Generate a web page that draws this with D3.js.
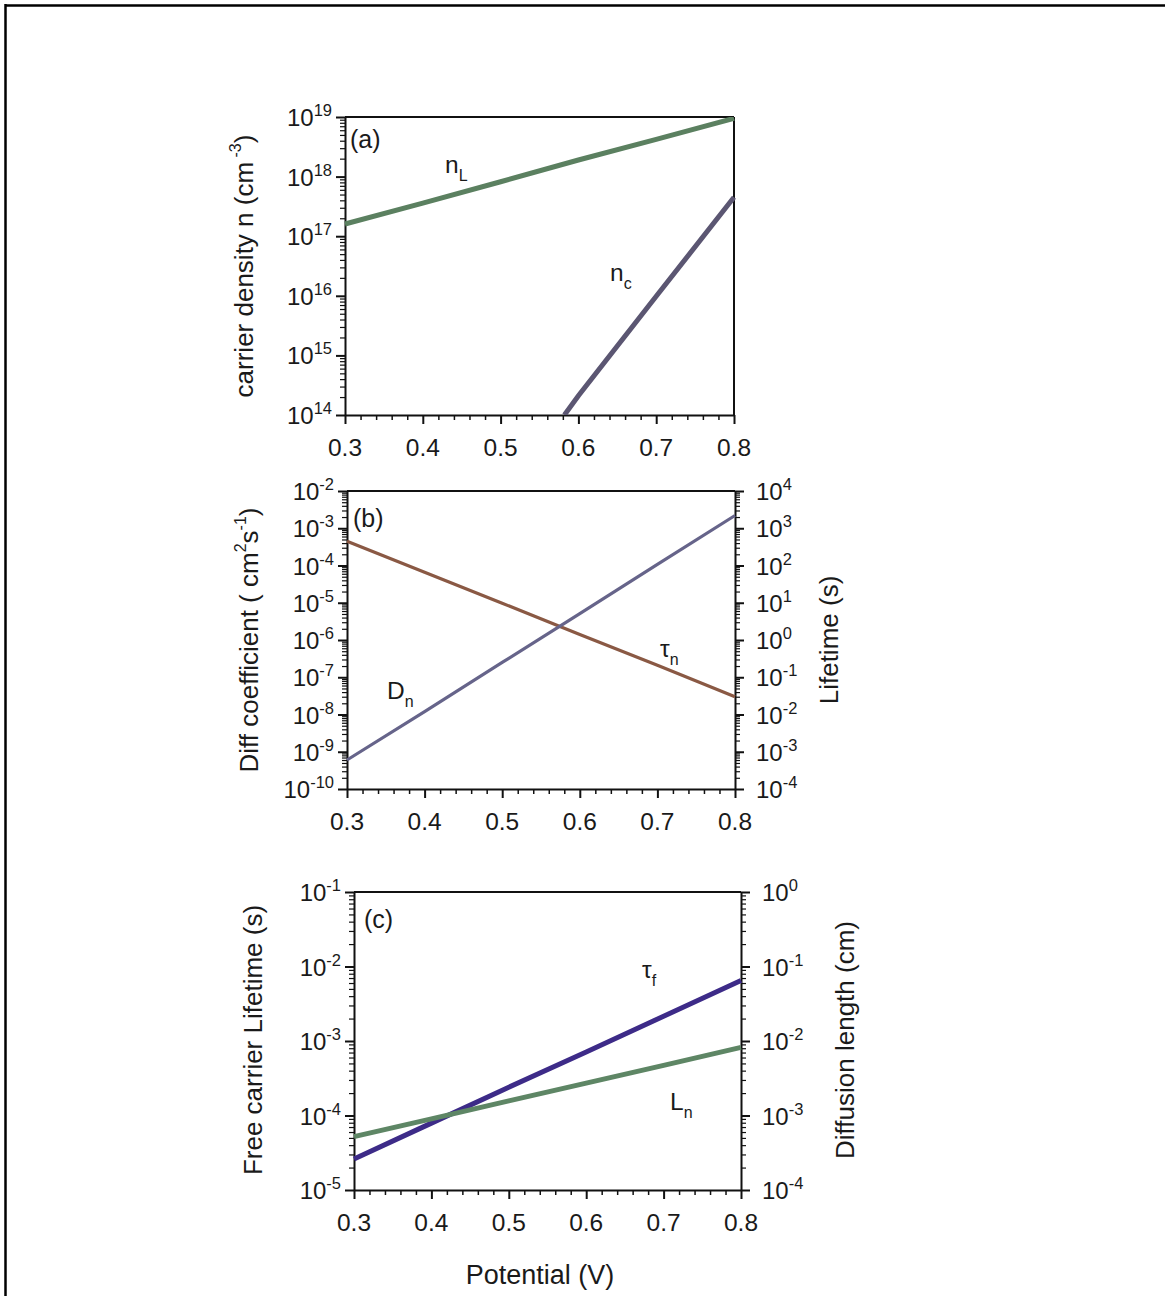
<!DOCTYPE html>
<html>
<head>
  <title>Carrier density, diffusion and lifetime</title>
  <style>
    body { margin: 0; background: #fff; }
    svg text { font-family: "Liberation Sans", Arial, sans-serif; fill: #1a1a1a; }
    .domain, .tick line { stroke: #111; }
  </style>
</head>
<body>
  <svg id="chart" width="1165" height="1296"></svg>

  <script src="https://cdn.jsdelivr.net/npm/d3@7"></script>
  <script>
    // data
    const potential = [0.3, 0.4, 0.5, 0.6, 0.7, 0.8];
    const xTicks = [0.3, 0.4, 0.5, 0.6, 0.7, 0.8];

    // (a) carrier density, cm^-3
    const nL = [1.6e17, 3.6e17, 8.2e17, 1.9e18, 4.2e18, 9.5e18];
    const ncPotential = [0.582, 0.6, 0.7, 0.8];
    const nc = [1e14, 2.1e14, 9.8e15, 4.5e17];

    // (b) diffusion coefficient (left) and lifetime (right)
    const Dn = [6e-10, 1.2e-8, 2.5e-7, 5.1e-6, 1.07e-4, 2.2e-3];
    const tauN = [450, 66, 9.7, 1.4, 0.21, 0.03];

    // (c) free carrier lifetime (left) and diffusion length (right)
    const tauF = [2.6e-5, 7.9e-5, 2.4e-4, 7.1e-4, 2.15e-3, 6.5e-3];
    const Ln = [5.2e-4, 9.0e-4, 1.57e-3, 2.72e-3, 4.7e-3, 8.2e-3];

    const svg = d3.select("#chart");

    // outer frame (top and left edges only)
    svg.append("line").attr("x1", 5).attr("y1", 5.5).attr("x2", 1165).attr("y2", 5.5)
       .attr("stroke", "#000").attr("stroke-width", 2.5);
    svg.append("line").attr("x1", 5.5).attr("y1", 4).attr("x2", 5.5).attr("y2", 1296)
       .attr("stroke", "#000").attr("stroke-width", 2.5);

    // log tick positions: 1..9 x 10^k
    function logTicks(lo, hi) {
      const t = [];
      for (let k = lo; k < hi; k++)
        for (let m = 1; m < 10; m++) t.push(m * Math.pow(10, k));
      t.push(Math.pow(10, hi));
      return t;
    }
    const isMajor = v => Math.abs(Math.log10(v) - Math.round(Math.log10(v))) < 1e-9;

    function logLabel(sel, v) {
      const e = Math.round(Math.log10(v));
      sel.append("tspan").text("10");
      sel.append("tspan").attr("dy", -10).attr("font-size", 16.5).text(e);
    }

    function logAxis(g, scale, lo, hi, side, x) {
      const ticks = logTicks(lo, hi);
      const dir = side === "left" ? -1 : 1;
      const axis = (side === "left" ? d3.axisLeft(scale) : d3.axisRight(scale))
        .tickValues(ticks).tickFormat("").tickSizeOuter(0).tickSize(0);
      const ag = g.append("g").attr("transform", `translate(${x},0)`).call(axis);
      ag.select(".domain").attr("stroke-width", 2);
      ag.selectAll(".tick line")
        .attr("x2", d => dir * (isMajor(d) ? 9 : 5))
        .attr("stroke-width", d => isMajor(d) ? 2 : 1.2);
      ticks.filter(isMajor).forEach(v => {
        const t = g.append("text")
          .attr("x", x + dir * (side === "left" ? 13 : 21))
          .attr("y", scale(v) + 9)
          .attr("font-size", 24)
          .attr("text-anchor", side === "left" ? "end" : "start");
        logLabel(t, v);
      });
    }

    function xAxis(g, x, h) {
      const minor = d3.range(0.3, 0.8001, 0.02);
      const axis = d3.axisBottom(x).tickValues(minor).tickFormat("").tickSizeOuter(0).tickSize(0);
      const ag = g.append("g").attr("transform", `translate(0,${h})`).call(axis);
      ag.select(".domain").attr("stroke-width", 2);
      ag.selectAll(".tick line")
        .attr("y2", d => xTicks.some(t => Math.abs(t - d) < 1e-6) ? 9 : 5)
        .attr("stroke-width", d => xTicks.some(t => Math.abs(t - d) < 1e-6) ? 2 : 1.5);
      g.selectAll(".xlab").data(xTicks).enter().append("text")
        .attr("x", d => x(d)).attr("y", h + 41)
        .attr("text-anchor", "middle").attr("font-size", 24.5)
        .text(d => d.toFixed(1));
    }

    function panel(p) {
      const g = svg.append("g").attr("transform", `translate(${p.left},${p.top})`);
      const x = d3.scaleLinear().domain([0.3, 0.8]).range([0, p.w]);
      const y = d3.scaleLog().domain([Math.pow(10, p.ylo), Math.pow(10, p.yhi)]).range([p.h, 0]);

      const clipId = "clip-" + p.name;
      g.append("clipPath").attr("id", clipId).append("rect")
        .attr("x", -3).attr("y", 0).attr("width", p.w + 6).attr("height", p.h);

      // frame
      g.append("line").attr("x1", 0).attr("x2", p.w).attr("y1", 0).attr("y2", 0)
       .attr("stroke", "#111").attr("stroke-width", 2);
      if (!p.y2) g.append("line").attr("x1", p.w).attr("x2", p.w).attr("y1", 0).attr("y2", p.h)
       .attr("stroke", "#111").attr("stroke-width", 2);

      logAxis(g, y, p.ylo, p.yhi, "left", 0);
      let y2 = null;
      if (p.y2) {
        y2 = d3.scaleLog().domain([Math.pow(10, p.y2[0]), Math.pow(10, p.y2[1])]).range([p.h, 0]);
        logAxis(g, y2, p.y2[0], p.y2[1], "right", p.w);
      }
      xAxis(g, x, p.h);

      p.series.forEach(s => {
        const sc = s.right ? y2 : y;
        const pts = s.x.map((v, i) => [v, s.y[i]]);
        g.append("path").datum(pts)
          .attr("clip-path", `url(#${clipId})`)
          .attr("fill", "none").attr("stroke", s.color).attr("stroke-width", p.lw)
          .attr("d", d3.line().x(d => x(d[0])).y(d => sc(d[1])));
      });

      g.append("text").attr("x", p.tag[0]).attr("y", p.tag[1]).attr("font-size", 25).text(p.label);

      p.notes.forEach(n => {
        const t = g.append("text").attr("x", n.x).attr("y", n.y).attr("font-size", 24.5);
        t.append("tspan").text(n.main);
        t.append("tspan").attr("dy", 8).attr("font-size", 16).text(n.sub);
      });

      // axis titles
      const lt = svg.append("text")
        .attr("transform", `translate(${p.lTitle[0]},${p.lTitle[1]}) rotate(-90)`)
        .attr("text-anchor", "middle").attr("font-size", 26);
      p.lTitleParts.forEach(part => {
        const ts = lt.append("tspan").text(part[0]);
        if (part[1]) ts.attr("dy", part[1]).attr("font-size", part[2]);
      });
      if (p.rTitle) {
        svg.append("text")
          .attr("transform", `translate(${p.rTitle[0]},${p.rTitle[1]}) rotate(-90)`)
          .attr("text-anchor", "middle").attr("font-size", 26).text(p.rTitleText);
      }
    }

    panel({
      name: "a", left: 345, top: 117, w: 389, h: 298, ylo: 14, yhi: 19, lw: 5,
      series: [
        { x: potential, y: nL, color: "#5b8060" },
        { x: ncPotential, y: nc, color: "#5b5672" }
      ],
      label: "(a)", tag: [5, 31],
      notes: [
        { main: "n", sub: "L", x: 100, y: 56 },
        { main: "n", sub: "c", x: 265, y: 164 }
      ],
      lTitle: [253, 266],
      lTitleParts: [["carrier density n (cm"], [" -3", -12, 16], [")", 12, 26]]
    });

    panel({
      name: "b", left: 347, top: 491, w: 388, h: 298, ylo: -10, yhi: -2, lw: 3.2,
      y2: [-4, 4],
      series: [
        { x: potential, y: tauN, color: "#8a5944", right: true },
        { x: potential, y: Dn, color: "#66648a" }
      ],
      label: "(b)", tag: [6, 36],
      notes: [
        { main: "D", sub: "n", x: 40, y: 208 },
        { main: "\u03c4", sub: "n", x: 313, y: 166 }
      ],
      lTitle: [258, 640],
      lTitleParts: [["Diff coefficient ( cm"], ["2", -12, 16], ["s", 12, 26], ["-1", -12, 16], [")", 12, 26]],
      rTitle: [838, 640], rTitleText: "Lifetime (s)"
    });

    panel({
      name: "c", left: 354, top: 892, w: 387, h: 298, ylo: -5, yhi: -1, lw: 5,
      y2: [-4, 0],
      series: [
        { x: potential, y: tauF, color: "#3d2b88" },
        { x: potential, y: Ln, color: "#5e8665", right: true }
      ],
      label: "(c)", tag: [10, 36],
      notes: [
        { main: "\u03c4", sub: "f", x: 288, y: 86 },
        { main: "L", sub: "n", x: 316, y: 218 }
      ],
      lTitle: [262, 1040],
      lTitleParts: [["Free carrier  Lifetime (s)"]],
      rTitle: [854, 1040], rTitleText: "Diffusion length (cm)"
    });

    svg.append("text").attr("x", 540).attr("y", 1284).attr("text-anchor", "middle")
       .attr("font-size", 27).text("Potential (V)");
  </script>
</body>
</html>
